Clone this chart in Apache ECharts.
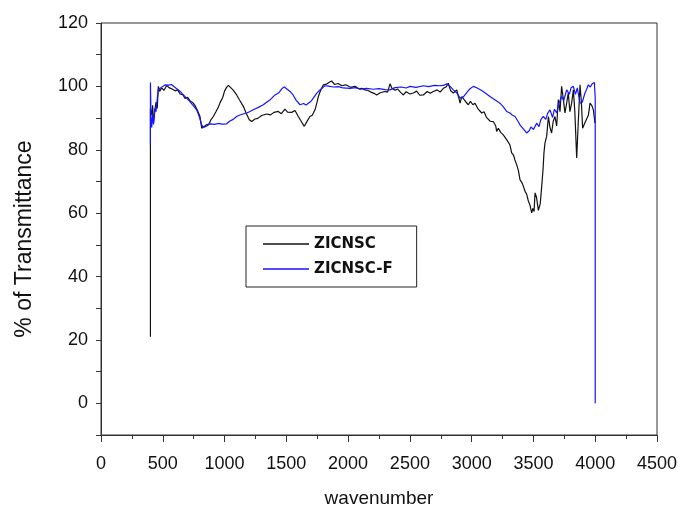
<!DOCTYPE html>
<html>
<head>
<meta charset="utf-8">
<script src="https://cdn.jsdelivr.net/npm/echarts@6/dist/echarts.min.js"></script>
<style>
html, body { margin: 0; padding: 0; background: #fff; }
#chart { width: 678px; height: 510px; }
</style>
</head>
<body>
<div id="chart"></div>
<script>
// ZICNSC (black)
var zicnscX = [400, 400, 410, 418, 425, 435, 445, 455, 464, 475, 490, 510, 532, 550, 565, 583, 600, 620, 640, 664, 680, 700, 720, 745, 760, 780, 801, 815, 830, 855, 875, 890, 909, 930, 950, 963, 985, 1000, 1015, 1031, 1050, 1070, 1098, 1120, 1152, 1175, 1200, 1220, 1246, 1270, 1300, 1341, 1370, 1400, 1435, 1460, 1489, 1510, 1543, 1570, 1597, 1620, 1645, 1665, 1691, 1710, 1732, 1745, 1759, 1780, 1800, 1830, 1850, 1867, 1890, 1920, 1948, 1980, 2020, 2056, 2090, 2110, 2137, 2160, 2190, 2210, 2231, 2260, 2298, 2320, 2339, 2355, 2380, 2400, 2425, 2447, 2470, 2500, 2528, 2555, 2580, 2609, 2640, 2665, 2690, 2720, 2745, 2771, 2795, 2811, 2830, 2852, 2879, 2895, 2906, 2920, 2933, 2955, 2973, 2990, 3010, 3027, 3050, 3065, 3081, 3100, 3120, 3135, 3150, 3160, 3175, 3195, 3202, 3216, 3235, 3256, 3270, 3283, 3297, 3310, 3324, 3340, 3350, 3364, 3378, 3391, 3410, 3432, 3445, 3459, 3472, 3486, 3495, 3505, 3513, 3525, 3540, 3555, 3567, 3578, 3585, 3593, 3607, 3621, 3634, 3647, 3660, 3674, 3688, 3701, 3715, 3728, 3742, 3755, 3770, 3782, 3795, 3809, 3823, 3835, 3850, 3862, 3877, 3888, 3898, 3915, 3931, 3945, 3958, 3972, 3985, 3998];
var zicnscY = [21, 93, 91, 94, 88.5, 92, 95, 93, 100, 98.4, 99.5, 98.8, 100.3, 99.6, 100.2, 99, 98.6, 98.9, 97.6, 97.3, 96.2, 96.6, 95.5, 94.8, 94, 92.5, 90.5, 86.8, 86.5, 87.9, 88.2, 89.5, 90.5, 92, 93.5, 94.8, 96.5, 98.5, 99.6, 100.3, 99.6, 98.8, 97.3, 95.8, 93.7, 91.5, 89.5, 88.9, 89.7, 89.9, 90.8, 91.3, 91, 91.8, 92.1, 91.4, 92.8, 91.9, 91.8, 92.4, 90.5, 89, 87.4, 88.8, 90.5, 90.9, 92.6, 94.5, 96.8, 99, 100.5, 100.8, 101.4, 101.7, 100.6, 100.9, 100.2, 100.5, 99.7, 100, 99.2, 99.4, 98.9, 98.7, 98.1, 97.8, 97.3, 98, 98.4, 98.2, 100.8, 99.4, 98.8, 99.2, 98.1, 97.3, 98.3, 97.6, 97.9, 98.5, 97.2, 97.3, 98.4, 97.8, 98.4, 98.9, 98.2, 99.4, 99.9, 101, 98.6, 97.9, 98.9, 96.5, 94.7, 96.8, 96.3, 95, 94.2, 95.3, 94.2, 94.7, 93, 92.5, 91.6, 92, 90.2, 90.5, 89, 89.6, 88.9, 87.5, 85.8, 86.8, 85.5, 84.7, 84.3, 83.2, 82.6, 81.5, 79, 78.2, 76.8, 75.3, 73.5, 70.6, 69.4, 66.9, 66, 63.8, 62.5, 60.1, 61.5, 60.5, 66.4, 65, 60.9, 63, 68.5, 74, 79, 82, 84.3, 90.5, 87, 85.3, 89, 90.5, 87.5, 95.8, 92, 100, 96, 91.6, 95, 97.9, 92, 94.7, 98.9, 92, 77.4, 88, 100.5, 95, 86.8, 88.4, 87.9, 91, 94.7, 94, 92.6, 88.4];

// ZICNSC-F (blue)
var zicnscFX = [400, 400, 405, 410, 418, 425, 435, 445, 455, 464, 480, 500, 520, 532, 550, 570, 585, 605, 630, 653, 675, 700, 720, 745, 774, 795, 815, 830, 842, 860, 882, 920, 950, 980, 1017, 1040, 1070, 1098, 1120, 1150, 1180, 1206, 1240, 1270, 1314, 1340, 1370, 1408, 1440, 1465, 1484, 1500, 1530, 1555, 1580, 1611, 1640, 1660, 1678, 1700, 1718, 1745, 1772, 1795, 1813, 1840, 1880, 1920, 1960, 2015, 2060, 2100, 2150, 2202, 2250, 2300, 2339, 2380, 2430, 2470, 2501, 2550, 2609, 2650, 2700, 2744, 2770, 2798, 2825, 2852, 2880, 2906, 2933, 2960, 2985, 3013, 3045, 3081, 3110, 3148, 3190, 3229, 3255, 3283, 3310, 3330, 3351, 3375, 3395, 3420, 3445, 3465, 3480, 3500, 3526, 3545, 3560, 3580, 3600, 3615, 3634, 3655, 3670, 3688, 3705, 3728, 3745, 3769, 3790, 3805, 3823, 3840, 3855, 3877, 3895, 3917, 3930, 3944, 3960, 3975, 3993, 4000, 4000];
var zicnscFY = [81.6, 101.2, 90, 87, 91, 88, 93, 92, 96, 99, 98.6, 100, 100.5, 101, 100.4, 100.6, 100.2, 99.5, 98.8, 97.9, 97, 96, 95.2, 94, 92.6, 90.5, 87.9, 87, 86.8, 87.6, 88.2, 88, 88.3, 88.1, 88.2, 89, 89.6, 90.5, 90.9, 91.3, 91.6, 92.1, 92.8, 93.3, 94.2, 95, 95.8, 97.3, 98, 99.3, 99.8, 99.4, 98.4, 97.3, 95.6, 94.2, 94.6, 94.1, 94.7, 95.3, 96.3, 97.8, 98.9, 99.6, 100.2, 100.1, 99.8, 99.9, 99.5, 99.4, 99.6, 99.1, 99.4, 99.1, 99.3, 99, 98.9, 99.6, 99.8, 99.5, 100, 99.7, 100.2, 99.9, 100.3, 100.2, 100.3, 100.8, 100, 98.9, 97.9, 96.3, 96.7, 98, 99.2, 100, 99.5, 98.7, 97.9, 96.8, 95.7, 94.7, 93.6, 92.1, 91.6, 90.9, 90.5, 89, 87.6, 86.5, 85.3, 86, 87.2, 86.4, 88.4, 87.3, 89.5, 90.5, 89.6, 91.5, 92.6, 90.2, 92.8, 91.6, 94.5, 96.8, 95.5, 98.9, 97.5, 99.6, 100, 97.5, 99.5, 94.7, 95, 97.9, 99, 100.5, 99.8, 100.8, 101.2, 96.3, 0];

var yTickLabels = ['0', '20', '40', '60', '80', '100', '120'];

function pairs(xs, ys) {
	var out = [];
	for (var i = 0; i < xs.length; i++) {
		out.push([xs[i], ys[i]]);
	}
	return out;
}

var chart = echarts.init(document.getElementById('chart'));
var font = 'Liberation Sans, Arial, sans-serif';
var option = {
	animation: false,
	backgroundColor: '#fff',
	grid: {
		left: 101,
		right: 21,
		top: 23,
		bottom: 75,
		outerBoundsMode: 'none',
		containLabel: false,
		show: true,
		borderColor: '#333',
		borderWidth: 1
	},
	legend: {
		orient: 'vertical',
		left: 246,
		top: 226,
		padding: [10, 24, 10, 17],
		itemGap: 9,
		itemWidth: 46,
		itemHeight: 1.5,
		icon: 'rect',
		borderColor: '#222',
		borderWidth: 1,
		textStyle: {
			fontFamily: 'DejaVu Sans',
			fontWeight: 'bold',
			fontSize: 15,
			lineHeight: 16,
			color: '#111'
		},
		data: ['ZICNSC', 'ZICNSC-F']
	},
	xAxis: {
		type: 'value',
		min: 0,
		max: 4500,
		interval: 500,
		name: 'wavenumber',
		nameLocation: 'middle',
		nameGap: 54,
		nameTextStyle: { fontFamily: font, fontSize: 19, color: '#111' },
		axisLine: { show: true, onZero: false, lineStyle: { color: '#333', width: 1 } },
		axisTick: { show: true, inside: false, length: 7, lineStyle: { color: '#333' } },
		minorTick: { show: true, splitNumber: 2, length: 4, lineStyle: { color: '#333' } },
		splitLine: { show: false },
		axisLabel: {
			fontFamily: font,
			fontSize: 18,
			color: '#111',
			margin: 20,
			formatter: function(v) { return String(v); }
		}
	},
	yAxis: {
		type: 'value',
		min: -10,
		max: 120,
		interval: 10,
		name: '% of Transmittance',
		nameLocation: 'middle',
		nameGap: 65,
		nameRotate: 90,
		nameTextStyle: { fontFamily: font, fontSize: 23, color: '#111', padding: [0, 20, 0, 0] },
		axisLine: { show: true, onZero: false, lineStyle: { color: '#333', width: 1 } },
		axisTick: { show: true, inside: false, length: 5, lineStyle: { color: '#333' } },
		splitLine: { show: false },
		axisLabel: {
			fontFamily: font,
			fontSize: 18,
			color: '#111',
			margin: 13,
			formatter: function(v) {
				var s = String(v);
				return yTickLabels.indexOf(s) >= 0 ? s : '';
			}
		}
	},
	series: [
		{
			name: 'ZICNSC',
			type: 'line',
			symbol: 'none',
			z: 2,
			lineStyle: { color: '#111', width: 1.2 },
			itemStyle: { color: '#111' },
			data: pairs(zicnscX, zicnscY)
		},
		{
			name: 'ZICNSC-F',
			type: 'line',
			symbol: 'none',
			z: 3,
			lineStyle: { color: '#1414ff', width: 1.2 },
			itemStyle: { color: '#1414ff' },
			data: pairs(zicnscFX, zicnscFY)
		}
	]
};
chart.setOption(option);
</script>
</body>
</html>
